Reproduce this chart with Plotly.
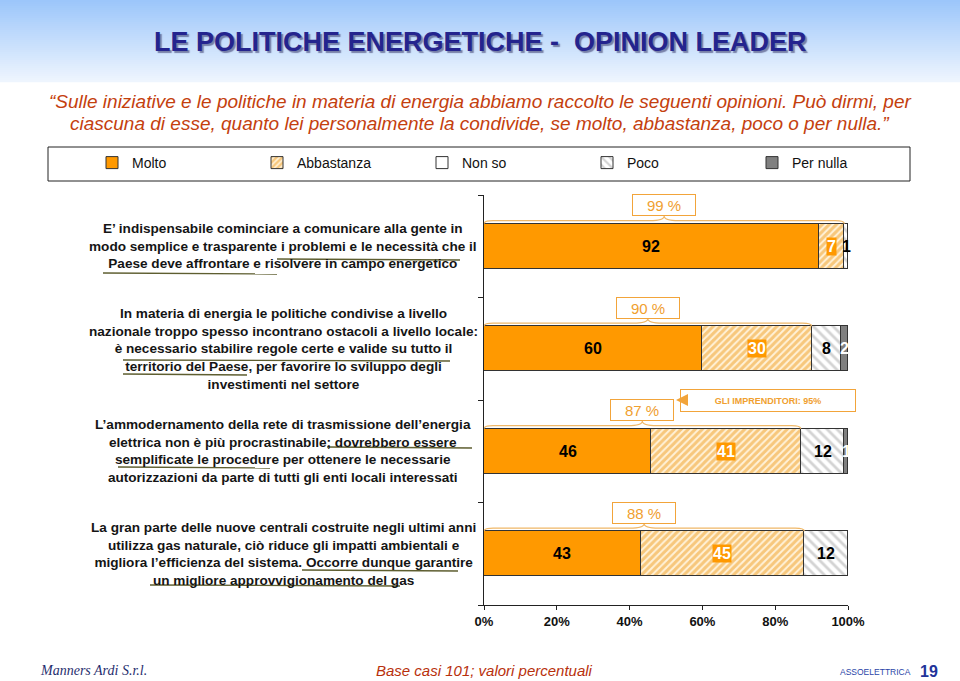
import plotly.graph_objects as go

# ---------------- data ----------------
statements = [
    "E’ indispensabile cominciare a comunicare alla gente in<br>modo semplice e trasparente i problemi e le necessità che il<br>Paese deve affrontare e risolvere in campo energetico",
    "In materia di energia le politiche condivise a livello<br>nazionale troppo spesso incontrano ostacoli a livello locale:<br>è necessario stabilire regole certe e valide su tutto il<br>territorio del Paese, per favorire lo sviluppo degli<br>investimenti nel settore",
    "L’ammodernamento della rete di trasmissione dell’energia<br>elettrica non è più procrastinabile; dovrebbero essere<br>semplificate le procedure per ottenere le necessarie<br>autorizzazioni da parte di tutti gli enti locali interessati",
    "La gran parte delle nuove centrali costruite negli ultimi anni<br>utilizza gas naturale, ciò riduce gli impatti ambientali e<br>migliora l’efficienza del sistema. Occorre dunque garantire<br>un migliore approvvigionamento del gas",
]
series_names = ["Molto", "Abbastanza", "Non so", "Poco", "Per nulla"]
molto = [92, 60, 46, 43]
abbastanza = [7, 30, 41, 45]
non_so = [0, 0, 0, 0]
poco = [1, 8, 12, 12]
per_nulla = [0, 2, 1, 0]
note_index = 2
note_text = "GLI IMPRENDITORI: 95%"
x_ticks = [0, 20, 40, 60, 80, 100]
x_tick_labels = ["0%", "20%", "40%", "60%", "80%", "100%"]

title_text = "LE POLITICHE ENERGETICHE -\u00a0 OPINION LEADER"
subtitle_lines = [
    "“Sulle iniziative e le politiche in materia di energia abbiamo raccolto le seguenti opinioni. Può dirmi, per",
    "ciascuna di esse, quanto lei personalmente la condivide, se molto, abbastanza, poco o per nulla.”",
]
footer_base = "Base casi 101; valori percentuali"

# ---------------- layout geometry ----------------
W, H = 960, 681
L, R, T, B = 484, 848, 195, 605


def px2x(px):
    return (px - L) / (R - L)


def px2y(py):
    return (B - py) / (B - T)


ypos = list(range(len(statements)))
BAR_W = 0.44
ORANGE = "#FF9900"
BOX_ORANGE = "#F2A43A"
TXT_ORANGE = "#F0A030"

fig = go.Figure()

series = [molto, abbastanza, non_so, poco, per_nulla]
styles = [
    dict(color=ORANGE),
    dict(color="#FFF1D8", pattern=dict(shape="/", fgcolor="#EF9E20", bgcolor="#FFF1D8", size=5, solidity=0.6)),
    dict(color="#FFFFFF"),
    dict(color="#FFFFFF", pattern=dict(shape="\\", fgcolor="#A8A8A8", bgcolor="#FFFFFF", size=7, solidity=0.4)),
    dict(color="#808080"),
]
for name, vals, st in zip(series_names, series, styles):
    fig.add_trace(go.Bar(
        name=name, y=ypos, x=vals, orientation="h", width=BAR_W,
        marker=dict(line=dict(color="#333333", width=1), **st),
        hoverinfo="x+name",
    ))

annotations = []
shapes = []

# value labels inside bars
label_fmt = {
    0: dict(color="#000000", bg=None),
    1: dict(color="#FFFFFF", bg=ORANGE),
    3: dict(color="#000000", bg=None),
    4: dict(color="#FFFFFF", bg=None),
}
for i in ypos:
    start = 0
    for k, vals in enumerate(series):
        v = vals[i]
        if v > 0 and k in label_fmt:
            f = label_fmt[k]
            a = dict(x=start + v / 2, y=i, xref="x", yref="y", text=str(v), showarrow=False,
                     font=dict(family="Liberation Sans", size=16, color=f["color"], weight="bold"),
                     xanchor="center", yanchor="middle")
            if f["bg"]:
                a.update(bgcolor=f["bg"], borderpad=0)
            annotations.append(a)
        start += v

# braces + totals boxes
for i in ypos:
    tot = molto[i] + abbastanza[i]
    yb = i - BAR_W / 2
    yt = yb - 0.03
    yp = yb - 0.075
    xm = tot / 2
    d1, d2 = 2.5, 4.0
    path = (f"M 0,{yb} Q 0,{yt} {d1},{yt} L {xm - d2},{yt} Q {xm},{yt} {xm},{yp} "
            f"Q {xm},{yt} {xm + d2},{yt} L {tot - d1},{yt} Q {tot},{yt} {tot},{yb}")
    shapes.append(dict(type="path", path=path, xref="x", yref="y",
                       line=dict(color="#F0B868", width=1.2)))
    annotations.append(dict(x=xm, y=yp, xref="x", yref="y", text=f"{tot} %", showarrow=False,
                            yanchor="bottom", xanchor="center", width=58, height=16,
                            bordercolor=BOX_ORANGE, borderwidth=1, borderpad=2, bgcolor="white",
                            font=dict(family="Liberation Sans", size=15, color=TXT_ORANGE)))

# note box for imprenditori
annotations.append(dict(x=px2x(768), y=px2y(400), xref="paper", yref="paper", text=note_text,
                        showarrow=False, xanchor="center", yanchor="middle", width=168, height=15,
                        bordercolor=BOX_ORANGE, borderwidth=1, borderpad=3, bgcolor="white",
                        font=dict(family="Liberation Sans", size=9, color=TXT_ORANGE, weight="bold")))
annotations.append(dict(x=px2x(676), y=px2y(400), xref="paper", yref="paper", text="",
                        showarrow=True, ax=6, ay=0, arrowhead=2, arrowsize=1.2, arrowwidth=2,
                        arrowcolor=BOX_ORANGE))

# statement labels
for i, s in enumerate(statements):
    annotations.append(dict(x=px2x(283), y=i, xref="paper", yref="y", text=s, showarrow=False,
                            xanchor="center", yanchor="middle", align="center",
                            font=dict(family="Liberation Sans", size=13.6, color="#151515", weight="bold")))

# decorative hand-drawn underlines
underlines = [(277, 460, 259), (103, 277, 273), (123, 450, 360), (123, 247, 374),
              (327, 472, 447), (118, 270, 467), (302, 458, 570), (150, 400, 585)]
for x0, x1, yy in underlines:
    shapes.append(dict(type="line", xref="paper", yref="paper", x0=px2x(x0), x1=px2x(x1),
                       y0=px2y(yy), y1=px2y(yy + 1), line=dict(color="#5E5E30", width=1.4)))

# title band gradient
n = 41
top_c = (156, 198, 250)
bot_c = (238, 245, 254)
for k in range(n):
    t = k / (n - 1)
    c = tuple(int(round(top_c[j] + (bot_c[j] - top_c[j]) * t)) for j in range(3))
    shapes.append(dict(type="rect", xref="paper", yref="paper", layer="below",
                       x0=px2x(0), x1=px2x(W), y0=px2y(k * 2), y1=px2y(k * 2 + 2.2),
                       fillcolor=f"rgb{c}", line=dict(width=0)))

# legend frame
shapes.append(dict(type="rect", xref="paper", yref="paper", x0=px2x(48), x1=px2x(910),
                   y0=px2y(147), y1=px2y(181), line=dict(color="#222222", width=1),
                   fillcolor="rgba(0,0,0,0)"))

# title (with drop shadow)
annotations.append(dict(x=px2x(480), y=px2y(42), xref="paper", yref="paper", text=title_text,
                        showarrow=False, xanchor="center", yanchor="middle",
                        font=dict(family="Liberation Sans", size=27, color="#24248E", weight="bold",
                                  shadow="2px 2px 1px rgba(50,50,100,0.55)")))
# subtitle
for line, yy in zip(subtitle_lines, [101, 123]):
    annotations.append(dict(x=px2x(480), y=px2y(yy), xref="paper", yref="paper", text=line,
                            showarrow=False, xanchor="center", yanchor="middle",
                            font=dict(family="Liberation Sans", size=19, color="#C4400E", style="italic")))
# footer
annotations.append(dict(x=px2x(38), y=px2y(670), xref="paper", yref="paper", text="Manners Ardi S.r.l.",
                        showarrow=False, xanchor="left", yanchor="middle",
                        font=dict(family="Liberation Serif", size=14, color="#1F2E6E", style="italic")))
annotations.append(dict(x=px2x(484), y=px2y(670), xref="paper", yref="paper", text=footer_base,
                        showarrow=False, xanchor="center", yanchor="middle",
                        font=dict(family="Liberation Sans", size=15, color="#B8300C", style="italic")))
annotations.append(dict(x=px2x(838), y=px2y(672), xref="paper", yref="paper", text="ASSOELETTRICA",
                        showarrow=False, xanchor="left", yanchor="middle",
                        font=dict(family="Liberation Sans", size=8.5, color="#2A45A8")))
annotations.append(dict(x=px2x(929), y=px2y(671), xref="paper", yref="paper", text="19",
                        showarrow=False, xanchor="center", yanchor="middle",
                        font=dict(family="Liberation Sans", size=16, color="#22339A", weight="bold")))

fig.update_layout(
    width=W, height=H,
    margin=dict(l=L, r=W - R, t=T, b=H - B, pad=0),
    paper_bgcolor="white", plot_bgcolor="white",
    barmode="stack", bargap=0,
    showlegend=True,
    legend=dict(orientation="h", x=px2x(92), xanchor="left", y=px2y(147), yanchor="top",
                entrywidth=120, entrywidthmode="pixels", traceorder="normal",
                font=dict(family="Liberation Sans", size=14, color="#111111"),
                bgcolor="rgba(0,0,0,0)", borderwidth=0),
    xaxis=dict(range=[0, 100], tickvals=x_ticks, ticktext=x_tick_labels,
               showgrid=False, zeroline=False, showline=True, linecolor="#222222", linewidth=1,
               ticks="outside", ticklen=4, tickcolor="#222222",
               tickfont=dict(family="Liberation Sans", size=13, color="#111111", weight="bold"),
               fixedrange=True),
    yaxis=dict(range=[len(statements) - 0.5, -0.5], tickvals=[-0.5, 0.5, 1.5, 2.5, 3.5],
               ticktext=["", "", "", "", ""], showgrid=False, zeroline=False,
               showline=True, linecolor="#222222", linewidth=1,
               ticks="outside", ticklen=5, tickcolor="#222222", fixedrange=True),
    annotations=annotations,
    shapes=shapes,
)

fig.write_html("out.html", config={"displayModeBar": False},
               post_script="document.body.style.margin='0';")
